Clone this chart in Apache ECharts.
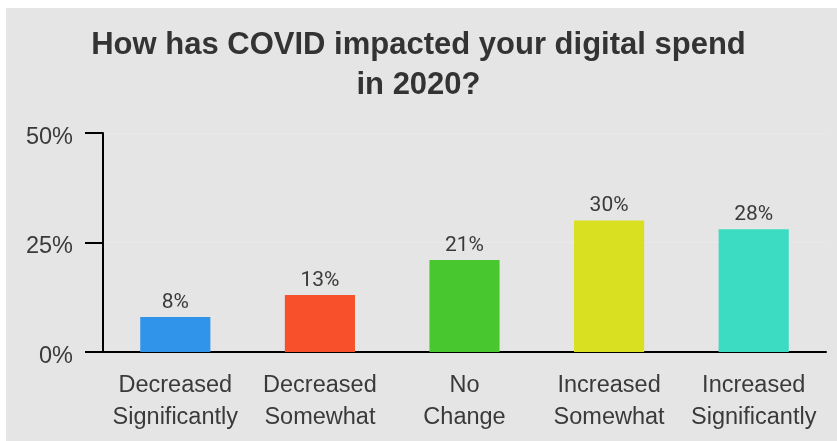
<!DOCTYPE html>
<html>
<head>
<meta charset="utf-8">
<script src="https://cdn.jsdelivr.net/npm/echarts@6/dist/echarts.min.js"></script>
<style>
  html, body { margin: 0; padding: 0; background: #ffffff; }
  #chart { width: 837px; height: 441px; }
</style>
</head>
<body>
<div id="chart"></div>
<script>
// Survey responses: change in digital spend during 2020
const categories = [
  'Decreased\nSignificantly',
  'Decreased\nSomewhat',
  'No\nChange',
  'Increased\nSomewhat',
  'Increased\nSignificantly'
];
const shares = [8, 13, 21, 30, 28];
const barColors = ['#3094ea', '#f7502b', '#48c82e', '#d8e021', '#3cdcc2'];
const yTicks = [0, 25, 50];

const chart = echarts.init(document.getElementById('chart'), null, { renderer: 'canvas' });

chart.setOption({
  backgroundColor: '#ffffff',
  animation: false,
  graphic: [{
    type: 'rect',
    z: -10,
    silent: true,
    shape: { x: 6, y: 8, width: 831, height: 433 },
    style: { fill: '#e5e5e5' }
  }],
  title: {
    text: 'How has COVID impacted your digital spend\nin 2020?',
    left: 'center',
    top: 20,
    textStyle: {
      fontFamily: 'Liberation Sans, Arial, sans-serif',
      fontWeight: 'bold',
      fontSize: 31,
      lineHeight: 40,
      color: '#333333'
    }
  },
  grid: { left: 103, right: 11, top: 133, bottom: 89 },
  xAxis: {
    type: 'category',
    data: categories,
    axisLine: { lineStyle: { color: '#000000', width: 2 } },
    axisTick: { alignWithLabel: true, length: 18, lineStyle: { color: '#000000', width: 2 } },
    axisLabel: {
      margin: 18,
      fontFamily: 'Liberation Sans, Arial, sans-serif',
      fontSize: 23.5,
      lineHeight: 32,
      color: '#3a3a3a',
      interval: 0
    }
  },
  yAxis: {
    type: 'value',
    min: yTicks[0],
    max: yTicks[yTicks.length - 1],
    interval: yTicks[1] - yTicks[0],
    axisLine: { show: true, lineStyle: { color: '#000000', width: 2 } },
    axisTick: { show: true, length: 18, lineStyle: { color: '#000000', width: 2 } },
    axisLabel: {
      margin: 30,
      formatter: v => '{p|' + v + '%}',
      rich: {
        p: {
          fontFamily: 'Liberation Sans, Arial, sans-serif',
          fontSize: 23.5,
          color: '#3a3a3a',
          padding: [9, 0, 0, 0]
        }
      }
    },
    splitLine: { show: true, lineStyle: { color: '#eaeaea', width: 1 } }
  },
  series: [{
    type: 'bar',
    barWidth: '48.5%',
    data: shares.map((v, i) => ({ value: v, itemStyle: { color: barColors[i] } })),
    label: {
      show: true,
      position: 'top',
      distance: 4,
      formatter: p => p.value + '%',
      fontFamily: 'Roboto, sans-serif',
      fontSize: 21,
      color: '#3a3a3a'
    }
  }]
});
</script>
</body>
</html>
